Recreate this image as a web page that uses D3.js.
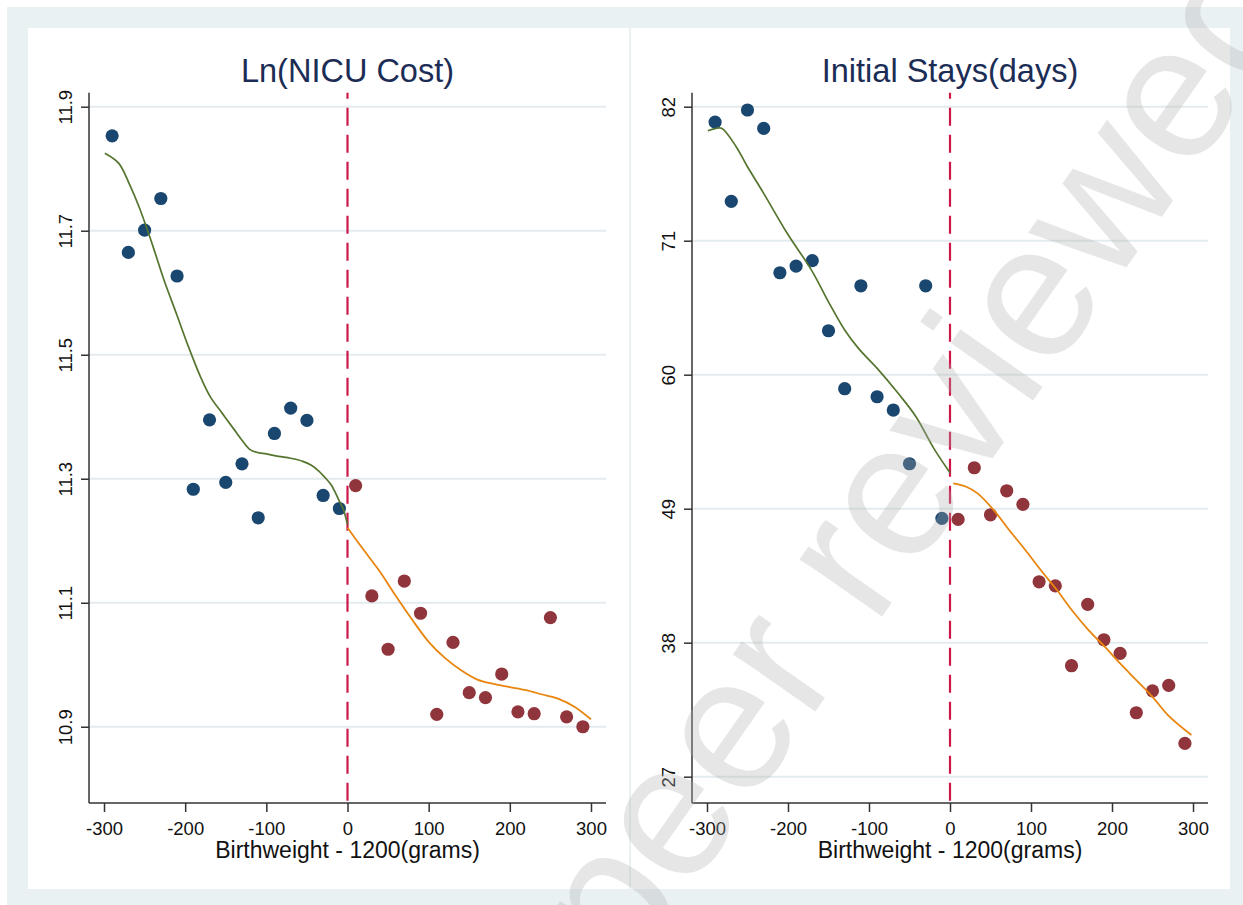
<!DOCTYPE html>
<html><head><meta charset="utf-8">
<script src="https://cdn.jsdelivr.net/npm/d3@7"></script>
<style>
html,body{margin:0;padding:0;background:#fff;}
svg{display:block;font-family:"Liberation Sans",Arial,Helvetica,sans-serif;}
</style>
</head><body>
<svg id="chart" width="1243" height="905"></svg>
<script>
// ---------- data ----------
const binsBelow = [-290,-270,-250,-230,-210,-190,-170,-150,-130,-110,-90,-70,-50,-30,-10];
const binsAbove = [10,30,50,70,90,110,130,150,170,190,210,230,250,270,290];

const costBelow = [11.853,11.665,11.701,11.752,11.627,11.283,11.395,11.294,11.324,11.237,11.373,11.414,11.394,11.273,11.252];
const costAbove = [11.289,11.111,11.025,11.135,11.083,10.920,11.036,10.955,10.947,10.985,10.924,10.921,11.076,10.916,10.900];

const stayBelow = [80.74,74.23,81.73,80.22,68.37,68.92,69.36,63.61,58.85,67.30,58.19,57.10,52.69,67.30,48.21];
const stayAbove = [48.12,52.36,48.50,50.47,49.36,43.00,42.67,36.11,41.15,38.24,37.12,32.25,34.05,34.50,29.73];

// smoothed (lowess) fits
const costFitBelowX = [-299,-282,-269,-257,-241,-226,-211,-196,-181,-169,-154,-140,-130,-120,-110,-100,-85,-70,-55,-45,-35,-25,-20,-10,-5,0];
const costFitBelowY = [11.825,11.809,11.776,11.739,11.680,11.620,11.567,11.513,11.464,11.432,11.405,11.380,11.362,11.347,11.342,11.340,11.336,11.333,11.328,11.322,11.312,11.298,11.290,11.264,11.250,11.226];
const costFitAboveX = [0,20,40,60,80,100,120,140,160,180,200,220,240,260,280,300];
const costFitAboveY = [11.221,11.185,11.150,11.110,11.072,11.037,11.011,10.991,10.976,10.969,10.964,10.959,10.952,10.945,10.932,10.912];

const stayFitBelowX = [-299,-290,-282,-264,-250,-230,-201,-171,-149,-130,-113,-88,-64,-42,-20,0];
const stayFitBelowY = [80.03,80.20,80.23,78.72,77.07,74.89,71.61,68.59,65.86,63.67,62.16,60.38,58.47,56.55,53.95,51.95];
const stayFitAboveX = [4,20,34,54,73,93,112,132,152,171,191,210,230,250,269,298];
const stayFitAboveY = [51.08,50.80,50.26,48.89,47.25,45.61,43.97,42.32,40.54,39.04,37.67,36.30,34.93,33.56,32.06,30.42];

const xTicks = [-300,-200,-100,0,100,200,300];
const costTicks = [10.9,11.1,11.3,11.5,11.7,11.9];
const stayTicks = [27,38,49,60,71,82];

const titles = ["Ln(NICU Cost)", "Initial Stays(days)"];
const xTitle = "Birthweight - 1200(grams)";
const watermark = "peer reviewed";

// ---------- drawing ----------
const svg = d3.select("#chart");
const BG = "#e9f1f3";
const NAVY = "#1a476f", MAROON = "#90353b", GREEN = "#55752f", ORANGE = "#e8850e";

svg.append("rect").attr("x",7).attr("y",7).attr("width",1236).attr("height",898).attr("fill",BG);
svg.append("rect").attr("x",28).attr("y",28).attr("width",601).attr("height",861).attr("fill","#fff");
svg.append("rect").attr("x",631).attr("y",28).attr("width",599).attr("height",861).attr("fill","#fff");

const panels = [
  {x0:89, x1:606, yDom:[10.777,11.9226], ticks:costTicks, fmt:d=>d.toFixed(1),
   below:costBelow, above:costAbove,
   fb:[costFitBelowX,costFitBelowY], fa:[costFitAboveX,costFitAboveY], title:titles[0]},
  {x0:692, x1:1208, yDom:[24.84,83.15], ticks:stayTicks, fmt:d=>String(d),
   below:stayBelow, above:stayAbove,
   fb:[stayFitBelowX,stayFitBelowY], fa:[stayFitAboveX,stayFitAboveY], title:titles[1]}
];
const yTop = 92.7, yBot = 803;
const FONT = '"Liberation Sans",Arial,sans-serif';

panels.forEach(p => {
  const x = d3.scaleLinear().domain([-318.5,318.5]).range([p.x0,p.x1]);
  const y = d3.scaleLinear().domain(p.yDom).range([yBot,yTop]);
  const g = svg.append("g");

  // grid
  g.selectAll("line.grid").data(p.ticks).join("line")
    .attr("x1",p.x0).attr("x2",p.x1)
    .attr("y1",d=>y(d)).attr("y2",d=>y(d))
    .attr("stroke","#e3ebee").attr("stroke-width",2);

  // axes
  const ya = g.append("g").attr("transform",`translate(${p.x0},0)`)
    .call(d3.axisLeft(y).tickValues(p.ticks).tickSize(8).tickFormat(p.fmt).tickPadding(0));
  ya.select(".domain").attr("d",`M0,${yTop}V${yBot}`).attr("stroke","#333").attr("stroke-width",1.5);
  ya.selectAll(".tick line").attr("stroke","#333").attr("stroke-width",1.5);
  ya.selectAll(".tick text")
    .attr("x",null).attr("dy",null)
    .attr("transform","translate(-17,0) rotate(-90)")
    .attr("text-anchor","middle").attr("font-size",18.5).attr("fill","#111")
    .attr("font-family",FONT);

  const xa = g.append("g").attr("transform",`translate(0,${yBot})`)
    .call(d3.axisBottom(x).tickValues(xTicks).tickSize(9).tickPadding(0).tickFormat(d=>String(d)));
  xa.select(".domain").attr("d",`M${p.x0},0H${p.x1}`).attr("stroke","#333").attr("stroke-width",1.5);
  xa.selectAll(".tick line").attr("stroke","#333").attr("stroke-width",1.5);
  xa.selectAll(".tick text").attr("y",32).attr("dy",null)
    .attr("font-size",18.5).attr("fill","#111")
    .attr("font-family",FONT);

  // cutoff line
  g.append("line").attr("x1",x(0)).attr("x2",x(0)).attr("y1",yTop).attr("y2",yBot)
    .attr("stroke","#cc1848").attr("stroke-width",2.2)
    .attr("stroke-dasharray","18,9").attr("stroke-dashoffset",12);

  // points
  g.selectAll("circle.b").data(binsBelow).join("circle")
    .attr("cx",d=>x(d)).attr("cy",(d,i)=>y(p.below[i])).attr("r",6.6).attr("fill",NAVY);
  g.selectAll("circle.a").data(binsAbove).join("circle")
    .attr("cx",d=>x(d)).attr("cy",(d,i)=>y(p.above[i])).attr("r",6.6).attr("fill",MAROON);

  // fits
  const line = d3.line().x(d=>x(d[0])).y(d=>y(d[1])).curve(d3.curveCatmullRom.alpha(0.5));
  g.append("path").attr("d",line(d3.zip(p.fb[0],p.fb[1])))
    .attr("fill","none").attr("stroke",GREEN).attr("stroke-width",1.7);
  g.append("path").attr("d",line(d3.zip(p.fa[0],p.fa[1])))
    .attr("fill","none").attr("stroke",ORANGE).attr("stroke-width",1.8);

  // titles
  g.append("text").attr("x",(p.x0+p.x1)/2).attr("y",82).attr("text-anchor","middle")
    .attr("font-size",32.5).attr("fill","#1c2d55").text(p.title);
  g.append("text").attr("x",(p.x0+p.x1)/2).attr("y",858).attr("text-anchor","middle")
    .attr("font-size",23).attr("fill","#111").text(xTitle);
});

// watermark
svg.append("text").attr("transform","translate(626,982) rotate(-55)")
  .attr("font-size",190).attr("fill","rgb(175,175,175)").attr("opacity",0.3)
  .text(watermark);
</script>
</body></html>
